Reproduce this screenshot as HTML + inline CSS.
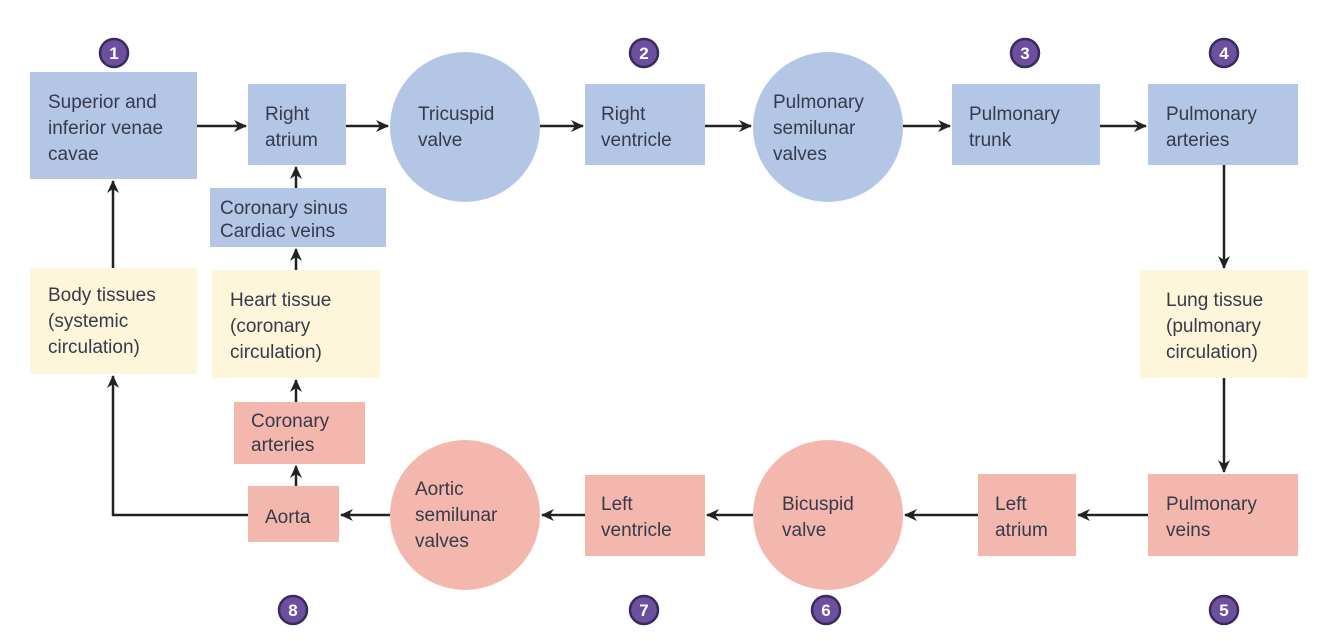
<!DOCTYPE html>
<html><head><meta charset="utf-8"><style>
body{margin:0;background:#fff;}
svg{display:block;font-family:"Liberation Sans",sans-serif;}
text{font-size:19px;fill:#363a4a;}
.b{fill:#b4c6e6}.y{fill:#fef6da}.p{fill:#f4b7ae}
.n circle{fill:#6c4f9e;stroke:#3a2c5a;stroke-width:2.5}
.n text{fill:#fff;font-weight:bold;font-size:17px;text-anchor:middle}
line,polyline{stroke:#222;stroke-width:2.5;fill:none}
</style></head><body>
<svg width="1328" height="641" viewBox="0 0 1328 641">
<defs><marker id="a" markerWidth="8" markerHeight="8" refX="7" refY="4" orient="auto" markerUnits="userSpaceOnUse"><path d="M0,0 L8,4 L0,8 L2,4z" fill="#222"/></marker>
<marker id="m" markerWidth="14" markerHeight="14" refX="12" refY="6" orient="auto" markerUnits="userSpaceOnUse"><path d="M0,0 L13,6 L0,12 L4,6z" fill="#222"/></marker></defs>

<rect class="b" x="30" y="72" width="167" height="107"/>
<rect class="b" x="248" y="84" width="98" height="81"/>
<circle class="b" cx="465" cy="127" r="75"/>
<rect class="b" x="585" y="84" width="120" height="81"/>
<circle class="b" cx="828" cy="127" r="75"/>
<rect class="b" x="952" y="84" width="148" height="81"/>
<rect class="b" x="1148" y="84" width="150" height="81"/>
<rect class="b" x="210" y="188" width="176" height="59"/>
<rect class="y" x="30" y="268" width="167" height="106"/>
<rect class="y" x="212" y="270" width="168" height="108"/>
<rect class="y" x="1140" y="270" width="168" height="108"/>
<rect class="p" x="234" y="402" width="131" height="62"/>
<rect class="p" x="248" y="486" width="91" height="56"/>
<circle class="p" cx="465" cy="515" r="75"/>
<rect class="p" x="585" y="475" width="120" height="81"/>
<circle class="p" cx="828" cy="515" r="75"/>
<rect class="p" x="978" y="474" width="98" height="82"/>
<rect class="p" x="1148" y="474" width="150" height="82"/>

<g marker-end="url(#m)">
<line x1="197" y1="126" x2="246" y2="126"/>
<line x1="346" y1="126" x2="388" y2="126"/>
<line x1="540" y1="126" x2="583" y2="126"/>
<line x1="705" y1="126" x2="751" y2="126"/>
<line x1="903" y1="126" x2="950" y2="126"/>
<line x1="1100" y1="126" x2="1146" y2="126"/>
<line x1="1224" y1="165" x2="1224" y2="268"/>
<line x1="1224" y1="378" x2="1224" y2="472"/>
<line x1="1148" y1="515" x2="1078" y2="515"/>
<line x1="978" y1="515" x2="905" y2="515"/>
<line x1="753" y1="515" x2="707" y2="515"/>
<line x1="585" y1="515" x2="542" y2="515"/>
<line x1="390" y1="515" x2="341" y2="515"/>
<line x1="296" y1="486" x2="296" y2="466"/>
<line x1="296" y1="402" x2="296" y2="380"/>
<line x1="296" y1="270" x2="296" y2="249"/>
<line x1="296" y1="188" x2="296" y2="167"/>
<line x1="113" y1="268" x2="113" y2="181"/>
<polyline points="248,515 113,515 113,376"/>
</g>

<text x="48" y="108">Superior and</text><text x="48" y="134">inferior venae</text><text x="48" y="160">cavae</text>
<text x="265" y="120">Right</text><text x="265" y="146">atrium</text>
<text x="418" y="120">Tricuspid</text><text x="418" y="146">valve</text>
<text x="601" y="120">Right</text><text x="601" y="146">ventricle</text>
<text x="773" y="108">Pulmonary</text><text x="773" y="134">semilunar</text><text x="773" y="160">valves</text>
<text x="969" y="120">Pulmonary</text><text x="969" y="146">trunk</text>
<text x="1166" y="120">Pulmonary</text><text x="1166" y="146">arteries</text>
<text x="220" y="214">Coronary sinus</text><text x="220" y="237">Cardiac veins</text>
<text x="48" y="301">Body tissues</text><text x="48" y="327">(systemic</text><text x="48" y="353">circulation)</text>
<text x="230" y="306">Heart tissue</text><text x="230" y="332">(coronary</text><text x="230" y="358">circulation)</text>
<text x="1166" y="306">Lung tissue</text><text x="1166" y="332">(pulmonary</text><text x="1166" y="358">circulation)</text>
<text x="251" y="427">Coronary</text><text x="251" y="451">arteries</text>
<text x="265" y="523">Aorta</text>
<text x="415" y="495">Aortic</text><text x="415" y="521">semilunar</text><text x="415" y="547">valves</text>
<text x="601" y="510">Left</text><text x="601" y="536">ventricle</text>
<text x="782" y="510">Bicuspid</text><text x="782" y="536">valve</text>
<text x="995" y="510">Left</text><text x="995" y="536">atrium</text>
<text x="1166" y="510">Pulmonary</text><text x="1166" y="536">veins</text>

<g class="n">
<circle cx="114" cy="53" r="14"/><text x="114" y="59">1</text>
<circle cx="644" cy="53" r="14"/><text x="644" y="59">2</text>
<circle cx="1025" cy="53" r="14"/><text x="1025" y="59">3</text>
<circle cx="1224" cy="53" r="14"/><text x="1224" y="59">4</text>
<circle cx="1224" cy="610" r="14"/><text x="1224" y="616">5</text>
<circle cx="826" cy="610" r="14"/><text x="826" y="616">6</text>
<circle cx="644" cy="610" r="14"/><text x="644" y="616">7</text>
<circle cx="293" cy="610" r="14"/><text x="293" y="616">8</text>
</g>
</svg>
</body></html>
